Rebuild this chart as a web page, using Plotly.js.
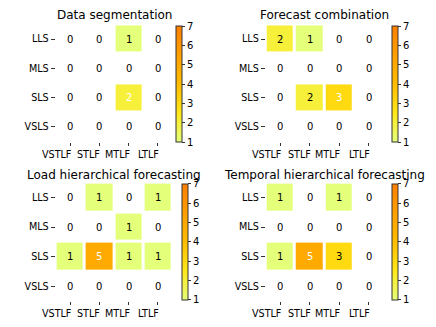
<!DOCTYPE html>
<html>
<head>
<meta charset="utf-8">
<script src="https://cdn.plot.ly/plotly-3.0.1.min.js"></script>
<style>
  html, body { margin: 0; padding: 0; background: #fff; }
  #chart { width: 436px; height: 327px; }
</style>
</head>
<body>
<div id="chart"></div>
<script>
"use strict";

// categories
const horizons = ['VSTLF', 'STLF', 'MTLF', 'LTLF'];
const levels = ['LLS', 'MLS', 'SLS', 'VSLS'];
const panelTitles = ['Data segmentation', 'Forecast combination',
    'Load hierarchical forecasting', 'Temporal hierarchical forecasting'];

// counts per level (rows) and horizon (columns)
const dataSegmentation = [[0, 0, 1, 0], [0, 0, 0, 0], [0, 0, 2, 0], [0, 0, 0, 0]];
const forecastCombination = [[2, 1, 0, 0], [0, 0, 0, 0], [0, 2, 3, 0], [0, 0, 0, 0]];
const loadHierarchical = [[0, 1, 0, 1], [0, 0, 1, 0], [1, 5, 1, 1], [0, 0, 0, 0]];
const temporalHierarchical = [[1, 0, 1, 0], [0, 0, 0, 0], [1, 5, 3, 0], [0, 0, 0, 0]];
const colorbarTicks = [1, 2, 3, 4, 5, 6, 7];

const panels = [dataSegmentation, forecastCombination, loadHierarchical, temporalHierarchical];

// matplotlib "Wistia"
const wistia = [[0, '#e4ff7a'], [0.25, '#ffe81a'], [0.5, '#ffbd00'], [0.75, '#ffa000'], [1, '#fc7f00']];
const vmin = 1, vmax = 7;

const W = 436, H = 327;
const font = 'DejaVu Sans, Arial, sans-serif';

// plot boxes in pixels: left, right, top, bottom
const boxes = [
    [55.6, 172.6, 24.4, 141.6],
    [265.7, 383.3, 24.4, 141.6],
    [55.6, 172.6, 182.6, 301.0],
    [265.7, 383.3, 182.6, 301.0]
];
const cbLeft = [176, 392, 181.5, 392];
const cbTop = [26, 26, 183.7, 183.7];
const cbLen = 116;
const titleY = [15, 15, 174.7, 174.7];

let traces = [];
let annotations = [];
let layout = {
    width: W, height: H,
    margin: {l: 0, r: 0, t: 0, b: 0},
    paper_bgcolor: '#fff', plot_bgcolor: '#fff',
    font: {family: font, size: 10, color: '#000'},
    showlegend: false,
    hovermode: false
};

function norm(v) {
    return (v - vmin) / (vmax - vmin);
}

for (let p = 0; p < panels.length; p++) {
    let data = panels[p];
    let b = boxes[p];
    let sfx = p === 0 ? '' : String(p + 1);

    // zeros are left blank
    let z = data.map(row => row.map(v => v === 0 ? null : v));
    let maxVal = Math.max.apply(null, data.map(r => Math.max.apply(null, r)));
    let threshold = norm(maxVal) / 2;

    traces.push({
        type: 'heatmap',
        x: horizons, y: levels, z: z,
        xaxis: 'x' + sfx, yaxis: 'y' + sfx,
        colorscale: wistia, zmin: vmin, zmax: vmax,
        xgap: 3, ygap: 3,
        hoverongaps: false,
        colorbar: {
            x: cbLeft[p] / W, xanchor: 'left', xpad: 0,
            y: 1 - cbTop[p] / H, yanchor: 'top', ypad: 0,
            len: cbLen, lenmode: 'pixels',
            thickness: 6, thicknessmode: 'pixels',
            outlinewidth: 1, outlinecolor: '#333',
            tickvals: colorbarTicks, ticks: 'outside', ticklen: 3, tickcolor: '#333',
            tickfont: {family: font, size: 10, color: '#000'}
        }
    });

    layout['xaxis' + sfx] = {
        domain: [b[0] / W, b[1] / W],
        anchor: 'y' + sfx,
        type: 'category', range: [-0.5, 3.5],
        showgrid: false, zeroline: false, showline: false,
        ticks: 'outside', ticklen: 3, tickcolor: '#333',
        showticklabels: false, fixedrange: true
    };
    layout['yaxis' + sfx] = {
        domain: [1 - b[3] / H, 1 - b[2] / H],
        anchor: 'x' + sfx,
        type: 'category', range: [3.5, -0.5],
        showgrid: false, zeroline: false, showline: false,
        ticks: 'outside', ticklen: 4, tickcolor: '#333',
        tickfont: {family: font, size: 9.6, color: '#000'},
        fixedrange: true
    };

    // panel title
    annotations.push({
        text: panelTitles[p], showarrow: false,
        xref: 'paper', yref: 'paper',
        x: (b[0] + b[1]) / 2 / W, y: 1 - titleY[p] / H,
        xanchor: 'center', yanchor: 'middle',
        font: {family: font, size: 12, color: '#000'}
    });

    // x tick labels, right aligned on the ticks
    for (let j = 0; j < horizons.length; j++) {
        annotations.push({
            text: horizons[j], showarrow: false,
            xref: 'x' + sfx, yref: 'y' + sfx + ' domain',
            x: horizons[j], y: 0,
            xanchor: 'right', yanchor: 'top',
            xshift: 3, yshift: -5,
            font: {family: font, size: 9.6, color: '#000'}
        });
    }

    // cell values
    for (let i = 0; i < levels.length; i++) {
        for (let j = 0; j < horizons.length; j++) {
            let v = data[i][j];
            annotations.push({
                text: String(v), showarrow: false,
                xref: 'x' + sfx, yref: 'y' + sfx,
                x: horizons[j], y: levels[i],
                font: {family: font, size: 10, color: norm(v) > threshold ? '#fff' : '#000'}
            });
        }
    }
}

layout.annotations = annotations;

Plotly.newPlot('chart', traces, layout, {displayModeBar: false, staticPlot: true});
</script>
</body>
</html>
